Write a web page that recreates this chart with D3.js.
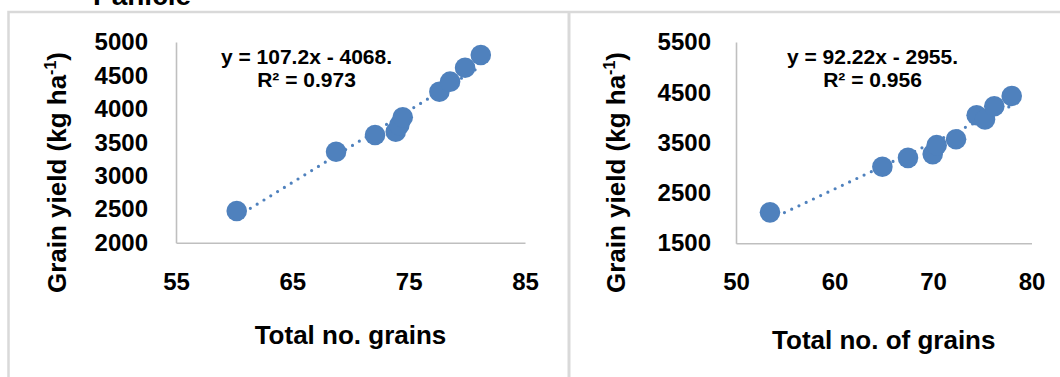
<!DOCTYPE html>
<html>
<head>
<meta charset="utf-8">
<script src="https://cdn.jsdelivr.net/npm/d3@7"></script>
<style>
  html, body { margin: 0; padding: 0; background: #ffffff; }
  svg { display: block; }
  text { font-family: "Liberation Sans", Arial, sans-serif; font-weight: bold; fill: #000000; }
</style>
</head>
<body>
<div id="chart"></div>
<script>
// Grain yield against total grain count, two seasons/sites
const grainsLeft = [60.22, 68.76, 72.11, 73.89, 74.20, 74.49, 77.64, 78.56, 79.85, 81.20];
const yieldLeft  = [2474, 3360, 3610, 3659, 3760, 3875, 4257, 4407, 4616, 4806];
const xTicksLeft = [55, 65, 75, 85];
const yTicksLeft = [2000, 2500, 3000, 3500, 4000, 4500, 5000];
const trendLeft  = { slope: 107.2, intercept: -4068 };
const eqLeft     = ["y = 107.2x - 4068.", "R² = 0.973"];
const xTitleLeft = "Total no. grains";

const grainsRight = [53.45, 64.86, 67.46, 69.97, 70.37, 72.34, 74.43, 75.28, 76.22, 77.99];
const yieldRight  = [2115, 3020, 3198, 3272, 3450, 3569, 4045, 3960, 4224, 4428];
const xTicksRight = [50, 60, 70, 80];
const yTicksRight = [1500, 2500, 3500, 4500, 5500];
const trendRight  = { slope: 92.22, intercept: -2955 };
const eqRight     = ["y = 92.22x - 2955.", "R² = 0.956"];
const xTitleRight = "Total no. of grains";

const yTitle = "Grain yield (kg ha";
const heading = "Panicle";

const W = 1060, H = 377;
const BLUE = "#4F81BD";
const AXIS = "#BFBFBF";
const FRAME = "#D9D9D9";

const svg = d3.select("#chart").append("svg")
  .attr("width", W).attr("height", H);

svg.append("rect").attr("width", W).attr("height", H).attr("fill", "#ffffff");

// chart frames
svg.append("path")
  .attr("d", "M8.5,380 V12 H1062")
  .attr("fill", "none").attr("stroke", FRAME).attr("stroke-width", 2.5);
svg.append("line")
  .attr("x1", 569).attr("x2", 569).attr("y1", 12).attr("y2", 380)
  .attr("stroke", FRAME).attr("stroke-width", 3);

// heading of the figure, partly above the frame
svg.append("text")
  .attr("x", 93).attr("y", 4.5)
  .style("font-size", "28px")
  .text(heading);

const panels = [
  {
    xs: grainsLeft, ys: yieldLeft, xTicks: xTicksLeft, yTicks: yTicksLeft,
    trend: trendLeft, eq: eqLeft, xTitle: xTitleLeft,
    plot: { x0: 176, x1: 525, y0: 242.7, y1: 42 },
    yPad: 28, eqX: 306.5, yTitleX: 66, xTitleY: 343.5
  },
  {
    xs: grainsRight, ys: yieldRight, xTicks: xTicksRight, yTicks: yTicksRight,
    trend: trendRight, eq: eqRight, xTitle: xTitleRight,
    plot: { x0: 736, x1: 1031.5, y0: 243.3, y1: 42 },
    yPad: 25, eqX: 872.5, yTitleX: 624.5, xTitleY: 348.5
  }
];

panels.forEach(p => {
  const x = d3.scaleLinear()
    .domain(d3.extent(p.xTicks))
    .range([p.plot.x0, p.plot.x1]);
  const y = d3.scaleLinear()
    .domain(d3.extent(p.yTicks))
    .range([p.plot.y0, p.plot.y1]);

  const g = svg.append("g");

  // y axis
  const ya = g.append("g")
    .attr("transform", `translate(${p.plot.x0},0)`)
    .call(d3.axisLeft(y).tickValues(p.yTicks).tickSize(0).tickPadding(p.yPad)
      .tickFormat(d3.format("d")));
  ya.select(".domain").attr("stroke", AXIS).attr("stroke-width", 1.6);
  ya.selectAll("text").style("font-size", "24px")
    .style("font-family", "'Liberation Sans', Arial, sans-serif").attr("fill", "#000");

  // x axis
  const xa = g.append("g")
    .attr("transform", `translate(0,${p.plot.y0})`)
    .call(d3.axisBottom(x).tickValues(p.xTicks).tickSize(0).tickPadding(30)
      .tickFormat(d3.format("d")));
  xa.select(".domain").attr("stroke", AXIS).attr("stroke-width", 1.6);
  xa.selectAll("text").style("font-size", "24px")
    .style("font-family", "'Liberation Sans', Arial, sans-serif").attr("fill", "#000");

  // linear trendline over the data range, from the fitted equation
  const [xmin, xmax] = d3.extent(p.xs);
  const fit = v => p.trend.slope * v + p.trend.intercept;
  g.append("path")
    .datum([xmin, xmax])
    .attr("d", d3.line().x(d => x(d)).y(d => y(fit(d))))
    .attr("fill", "none")
    .attr("stroke", BLUE)
    .attr("stroke-width", 3.2)
    .attr("stroke-linecap", "round")
    .attr("stroke-dasharray", "0 8");

  // observations
  g.selectAll("circle.pt")
    .data(p.xs.map((v, i) => [v, p.ys[i]]))
    .join("circle")
    .attr("class", "pt")
    .attr("cx", d => x(d[0]))
    .attr("cy", d => y(d[1]))
    .attr("r", 10.3)
    .attr("fill", BLUE);

  // trendline equation
  g.append("text")
    .attr("x", p.eqX).attr("y", 63.5)
    .attr("text-anchor", "middle")
    .style("font-size", "21px")
    .text(p.eq[0]);
  g.append("text")
    .attr("x", p.eqX).attr("y", 87)
    .attr("text-anchor", "middle")
    .style("font-size", "21px")
    .text(p.eq[1]);

  // axis titles
  g.append("text")
    .attr("x", (p.plot.x0 + p.plot.x1) / 2)
    .attr("y", p.xTitleY)
    .attr("text-anchor", "middle")
    .style("font-size", "26px")
    .text(p.xTitle);

  const yt = g.append("text")
    .attr("transform", `translate(${p.yTitleX},172.5) rotate(-90)`)
    .attr("text-anchor", "middle")
    .style("font-size", "26px");
  yt.append("tspan").text(yTitle);
  yt.append("tspan").attr("dy", -10).style("font-size", "16px").text("-1");
  yt.append("tspan").attr("dy", 10).text(")");
});
</script>
</body>
</html>
